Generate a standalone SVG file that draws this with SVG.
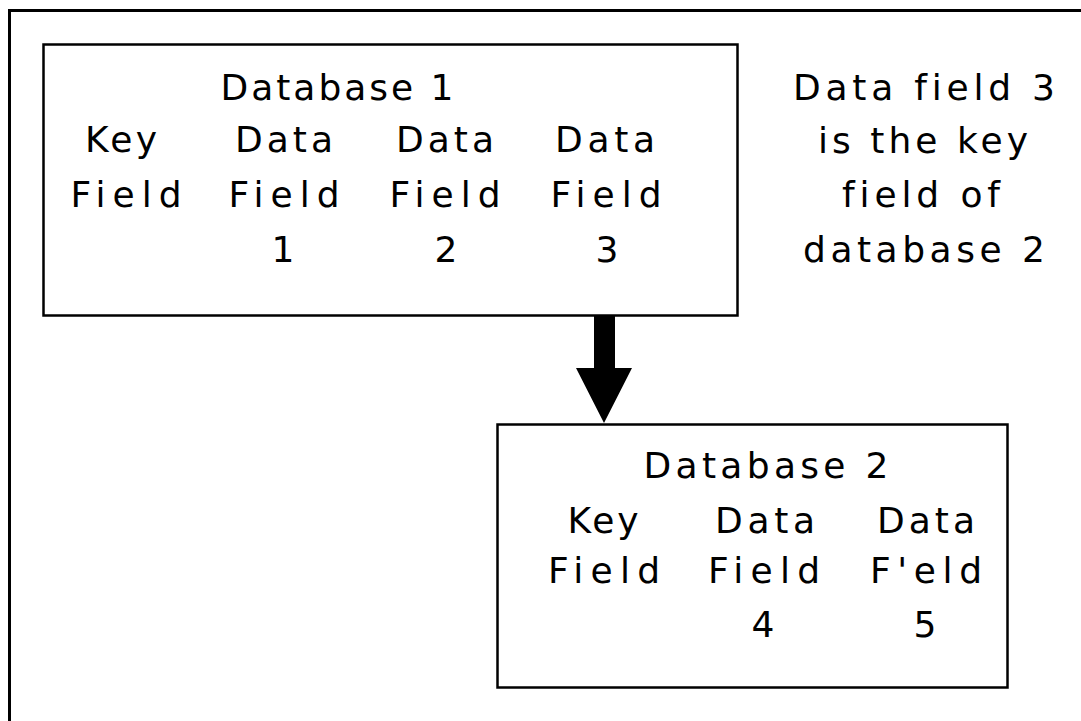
<svg xmlns="http://www.w3.org/2000/svg" width="1081" height="721" viewBox="0 0 1081 721">
<style>
.t{font-family:"DejaVu Sans","Liberation Sans",sans-serif;font-size:36px;fill:#000;text-anchor:middle;font-variant-ligatures:none;font-feature-settings:"liga" 0,"clig" 0}
.box{fill:#fff;stroke:#000;stroke-width:2.5}
</style>
<rect width="1081" height="721" fill="#fff"/>
<path id="frame" d="M9.5,721 V10.5 H1081" fill="none" stroke="#000" stroke-width="3"/>
<g id="database1">
<rect class="box" x="43.5" y="44.5" width="694" height="271"/>
<text class="t" x="337" y="100" textLength="233" lengthAdjust="spacing">Database 1</text>
<text class="t" x="121" y="152" textLength="72" lengthAdjust="spacing">Key</text>
<text class="t" x="284" y="152" textLength="98" lengthAdjust="spacing">Data</text>
<text class="t" x="445" y="152" textLength="98" lengthAdjust="spacing">Data</text>
<text class="t" x="605" y="152" textLength="100" lengthAdjust="spacing">Data</text>
<text class="t" x="126" y="207" textLength="111" lengthAdjust="spacing">Field</text>
<text class="t" x="284" y="207" textLength="111" lengthAdjust="spacing">Field</text>
<text class="t" x="445" y="207" textLength="111" lengthAdjust="spacing">Field</text>
<text class="t" x="606" y="207" textLength="111" lengthAdjust="spacing">Field</text>
<text class="t" x="283" y="262">1</text>
<text class="t" x="446" y="262">2</text>
<text class="t" x="607" y="262">3</text>
</g>
<g id="note">
<text class="t" x="924" y="100" textLength="262" lengthAdjust="spacing">Data field 3</text>
<text class="t" x="923" y="153" textLength="210" lengthAdjust="spacing">is the key</text>
<text class="t" x="921" y="207" textLength="158" lengthAdjust="spacing">field of</text>
<text class="t" x="924" y="262" textLength="242" lengthAdjust="spacing">database 2</text>
</g>
<g id="database2">
<rect class="box" x="497.5" y="424.5" width="510" height="263"/>
<text class="t" x="766" y="478" textLength="245" lengthAdjust="spacing">Database 2</text>
<text class="t" x="603" y="533" textLength="71" lengthAdjust="spacing">Key</text>
<text class="t" x="765" y="533" textLength="100" lengthAdjust="spacing">Data</text>
<text class="t" x="926" y="533" textLength="98" lengthAdjust="spacing">Data</text>
<text class="t" x="604" y="583" textLength="112" lengthAdjust="spacing">Field</text>
<text class="t" x="764" y="583" textLength="112" lengthAdjust="spacing">Field</text>
<text class="t" x="926" y="583" textLength="112" lengthAdjust="spacing">F'eld</text>
<text class="t" x="763" y="637">4</text>
<text class="t" x="925" y="637">5</text>
</g>
<g id="connectors">
<polygon points="594,316 615,316 615,368 632,368 604,423 576,368 594,368" fill="#000"/>
</g>
</svg>
